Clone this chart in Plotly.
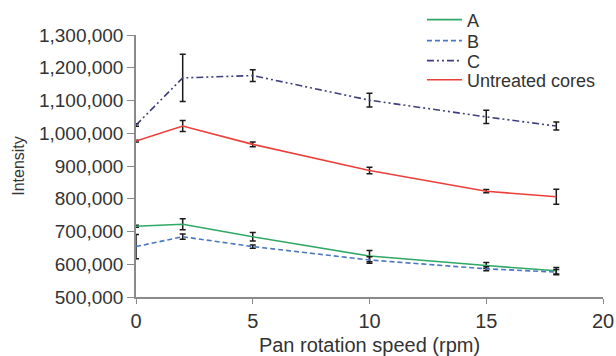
import plotly.graph_objects as go

speed = [0, 2, 5, 10, 15, 18]

a_vals = [716000, 722000, 684000, 625000, 596000, 580000]
a_err = [3000, 17000, 13000, 17000, 9000, 10000]

b_vals = [654000, 684000, 654000, 613000, 586000, 576000]
b_err = [37000, 8000, 5000, 10000, 6000, 8000]

c_vals = [1025000, 1169000, 1176000, 1101000, 1050000, 1022000]
c_err = [4000, 72000, 18000, 21000, 20000, 12000]

u_vals = [976000, 1022000, 966000, 886000, 823000, 806000]
u_err = [3000, 17000, 7000, 10000, 5000, 23000]

names = ["A", "B", "C", "Untreated cores"]
colors = ["#2fa865", "#4a78c0", "#3f3f80", "#ec3f3a"]
dashes = ["solid", "5px,3px", "7px,3px,2px,3px,2px,3px", "solid"]
series = [(a_vals, a_err), (b_vals, b_err), (c_vals, c_err), (u_vals, u_err)]
legend_ids = ["legend", "legend2", "legend3", "legend4"]
legend_y = [0.944, 0.885, 0.829, 0.775]

fig = go.Figure()
for name, color, dash, (vals, errs), lid in zip(names, colors, dashes, series, legend_ids):
    fig.add_trace(go.Scatter(
        x=speed, y=vals, name=name, mode="lines", legend=lid,
        line=dict(color=color, width=1.6, dash=dash),
        error_y=dict(type="data", array=errs, visible=True,
                     color="#1a1a1a", thickness=1.5, width=3),
    ))

font = "Liberation Sans, Arial, sans-serif"
legend_common = dict(xanchor="left", yanchor="middle", bgcolor="rgba(0,0,0,0)",
                     font=dict(size=18, color="#333333"), itemwidth=35,
                     borderwidth=0, xref="container", yref="container")
layout_legends = {}
for lid, ly in zip(legend_ids, legend_y):
    layout_legends[lid] = dict(x=0.685, y=ly, **legend_common)

fig.update_layout(
    width=616, height=356,
    margin=dict(l=136, r=13, t=35, b=59, autoexpand=False),
    paper_bgcolor="white", plot_bgcolor="white",
    font=dict(family=font, size=18, color="#333333"),
    showlegend=True,
    xaxis=dict(range=[0, 20], tickvals=[0, 5, 10, 15, 20],
               showline=True, linecolor="#8a8a8a", linewidth=1.5,
               ticks="outside", ticklen=5, tickcolor="#8a8a8a",
               tickfont=dict(size=20),
               showgrid=False, zeroline=False, automargin=False,
               title=dict(text="Pan rotation speed (rpm)", font=dict(size=20), standoff=9)),
    yaxis=dict(range=[500000, 1300000], dtick=100000, tickformat=",d",
               showline=True, linecolor="#8a8a8a", linewidth=1.5,
               ticks="outside", ticklen=7, tickcolor="#8a8a8a",
               tickfont=dict(size=19),
               showgrid=False, zeroline=False, automargin=False,
               title=dict(text="Intensity", font=dict(size=16), standoff=10)),
    **layout_legends,
)

fig.write_html("out.html", config={"displayModeBar": False},
               post_script="document.body.style.margin='0';")
